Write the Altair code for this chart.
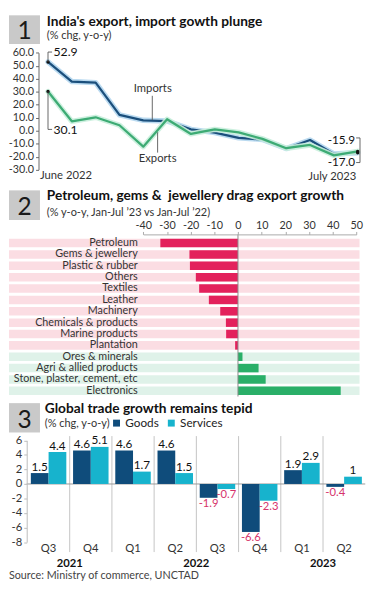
import altair as alt
import pandas as pd

FONT = "Lato"
W = 365
SX = 0.99
SY = 0.968
MINUS = "\u2212"
FIX_MINUS = f"replace(datum.label, '{MINUS}', '-')"


def X(x):
    return max(0.0, (x - 3) * SX)


def ly(y, top):
    return (y - top) * SY


P1, P2, P3, END = 3, 186, 405, 600
H1 = ly(P2, P1)
H2 = ly(P3, P2)
H3 = ly(END, P3)

# ---------------- data ----------------
months = ["Jun 2022", "Jul 2022", "Aug 2022", "Sep 2022", "Oct 2022", "Nov 2022", "Dec 2022",
          "Jan 2023", "Feb 2023", "Mar 2023", "Apr 2023", "May 2023", "Jun 2023", "Jul 2023"]
imports = [52.9, 37.8, 37.0, 12.2, 8.0, 7.4, 1.0, -1.5, -5.5, -6.8, -13.8, -7.2, -17.9, -17.0]
exports = [30.1, 7.2, 10.3, 4.2, -12.3, 8.8, -2.5, 1.0, -1.3, -6.3, -13.5, -11.0, -19.0, -15.9]
y1_ticks = [-30, -20, -10, 0, 10, 20, 30, 40, 50, 60]

sectors = ["Petroleum", "Gems & jewellery", "Plastic & rubber", "Others", "Textiles", "Leather",
           "Machinery", "Chemicals & products", "Marine products", "Plantation", "Ores & minerals",
           "Agri & allied products", "Stone, plaster, cement, etc", "Electronics"]
sector_growth = [-32.8, -20.5, -20.3, -17.8, -16.4, -12.3, -7.5, -5.1, -5.0, -1.2, 1.9, 8.7, 11.7, 43.4]
x2_ticks = [-40, -30, -20, -10, 0, 10, 20, 30, 40, 50]

quarters = ["Q3", "Q4", "Q1", "Q2", "Q3", "Q4", "Q1", "Q2"]
years = ["2021", "2021", "2022", "2022", "2022", "2022", "2023", "2023"]
goods = [1.5, 4.6, 4.6, 4.6, -1.9, -6.6, 1.9, -0.4]
services = [4.4, 5.1, 1.7, 1.5, -0.7, -2.3, 2.9, 1.0]
y3_ticks = [-8, -6, -4, -2, 0, 2, 4, 6]

NAVY = "#0f4c7b"
CYAN = "#17b3cd"
CRIMSON = "#e3215c"
GREEN = "#2aaf68"

ONE = pd.DataFrame({"k": [0]})
ZERO = pd.DataFrame({"z": [0]})


def text(t, x, y, size, weight="normal", align="left", baseline="alphabetic", color="#222"):
    return alt.Chart(ONE).mark_text(align=align, baseline=baseline, fontSize=size, fontWeight=weight,
                                    font=FONT, color=color).encode(
        x=alt.value(x), y=alt.value(y), text=alt.value(t))


def rect(x1, x2, y1, y2, color):
    return alt.Chart(ONE).mark_rect(color=color).encode(
        x=alt.value(x1), x2=alt.value(x2), y=alt.value(y1), y2=alt.value(y2))


def rule(x1, x2, y1, y2, color="#555", width=0.9):
    return alt.Chart(ONE).mark_rule(color=color, strokeWidth=width).encode(
        x=alt.value(x1), x2=alt.value(x2), y=alt.value(y1), y2=alt.value(y2))


def header(num, title, subtitle, top, box_top, box_bot, title_base, sub_base, title_x):
    return [
        rect(X(3), X(35), ly(box_top, top), ly(box_bot, top), "#c9c9c9"),
        text(num, X(19), ly(box_bot - 4.8, top), 25, align="center", color="#1a1a1a"),
        text(title, X(title_x), ly(title_base, top), 14, weight="bold", color="#111"),
        text(subtitle, X(title_x), ly(sub_base, top), 11.2, color="#333"),
    ]


# ---------------- panel 1 ----------------
df_imp = pd.DataFrame({"month": months, "value": imports})
df_exp = pd.DataFrame({"month": months, "value": exports})
df_ends = pd.DataFrame({"month": [months[0], months[0], months[-1], months[-1]],
                        "value": [imports[0], exports[0], imports[-1], exports[-1]]})

xs1 = alt.Scale(type="point", domain=months, range=[X(43.3), X(363.1)], padding=0)
ys1 = alt.Scale(domain=[-30, 60], range=[ly(166, P1), ly(42.5, P1)], nice=False, zero=False)
y1_axis = alt.Axis(values=y1_ticks, format=".1f", labelExpr=FIX_MINUS, offset=-X(33.5), tickSize=3,
                   tickColor="#666", domainColor="#666", labelColor="#333", labelFontSize=11,
                   labelFont=FONT, labelPadding=2, labelOverlap=False, grid=False, title=None, zindex=1)

X1 = alt.X("month:N", scale=xs1, axis=None)
Y1 = alt.Y("value:Q", scale=ys1, axis=y1_axis)


def line_layer(df, color, width, opacity=1.0):
    return alt.Chart(df).mark_line(color=color, strokeWidth=width, strokeJoin="round",
                                   strokeCap="round", opacity=opacity).encode(x=X1, y=Y1)


dots1 = alt.Chart(df_ends).mark_circle(size=12, color="#111", opacity=1).encode(x=X1, y=Y1)
br_imp = alt.Chart(df_ends.iloc[[0]]).mark_rule(color="#555", strokeWidth=0.9).encode(
    x=X1, y=Y1, y2=alt.value(ly(41.8, P1)))
br_exp = alt.Chart(df_ends.iloc[[1]]).mark_rule(color="#555", strokeWidth=0.9).encode(
    x=X1, y=Y1, y2=alt.value(ly(123.5, P1)))

panel1 = alt.layer(
    *header("1", "India's export, import gowth plunge", "(% chg, y-o-y)", P1, 3, 33.3, 14, 28.3, 42),
    line_layer(df_imp, "#b3d6ee", 5.5, opacity=0.9),
    line_layer(df_imp, "#1b4f7c", 2.3),
    line_layer(df_exp, "#c8eedb", 5.5, opacity=0.9),
    line_layer(df_exp, "#3dab74", 2.3),
    dots1,
    br_imp, rule(X(43.3), X(47.5), ly(41.8, P1), ly(41.8, P1)),
    br_exp, rule(X(43.3), X(47.5), ly(123.5, P1), ly(123.5, P1)),
    rule(X(365.5), X(365.5), ly(132.5, P1), ly(158.5, P1)),
    rule(X(361.5), X(365.5), ly(132.5, P1), ly(132.5, P1)),
    rule(X(361.5), X(365.5), ly(158.5, P1), ly(158.5, P1)),
    rule(X(151), X(151), ly(88, P1), ly(113.5, P1)),
    rule(X(156.5), X(156.5), ly(148, P1), ly(126.5, P1)),
    text(f"{imports[0]:.1f}", X(49), ly(42, P1), 12.5, baseline="middle", color="#111"),
    text(f"{exports[0]:.1f}", X(49), ly(123.8, P1), 12.5, baseline="middle", color="#111"),
    text(f"{exports[-1]:.1f}", X(360.5), ly(134.5, P1), 12, align="right", baseline="middle", color="#111"),
    text(f"{imports[-1]:.1f}", X(360.5), ly(158.3, P1), 12, align="right", baseline="middle", color="#111"),
    text("Imports", X(151.5), ly(81, P1), 11.5, align="center", baseline="middle", color="#333"),
    text("Exports", X(156.5), ly(154.5, P1), 11.5, align="center", baseline="middle", color="#333"),
    text("June 2022", X(35), ly(173, P1), 11.5, baseline="middle", color="#333"),
    text("July 2023", X(361.7), ly(173.5, P1), 11.5, align="right", baseline="middle", color="#333"),
).properties(width=W, height=H1)

# ---------------- panel 2 ----------------
df2 = pd.DataFrame({"sector": sectors, "growth": sector_growth})
ys2 = alt.Scale(type="band", domain=sectors, range=[ly(236.7, P2), ly(404.7, P2)],
                paddingInner=0.25, paddingOuter=0.125)
xs2 = alt.Scale(domain=[-40, 50], range=[X(141.7), X(361.7)], nice=False, zero=False)
x2_axis = alt.Axis(orient="top", values=x2_ticks, labelExpr=FIX_MINUS, offset=-ly(233.5, P2), tickSize=3,
                   tickColor="#aaa", domainColor="#aaa", labelFontSize=11, labelFont=FONT,
                   labelColor="#333", labelPadding=1, labelOverlap=False, labelFlush=False,
                   grid=False, title=None, zindex=1)
y2_axis = alt.Axis(orient="left", offset=-X(137.5), domain=False, ticks=False, tickSize=0, labelPadding=2,
                   labelFontSize=11, labelFont=FONT, labelColor="#333", labelLimit=300,
                   labelOverlap=False, title=None, zindex=1)
Y2 = alt.Y("sector:N", scale=ys2, axis=y2_axis)


def band_layer(cond, color):
    return alt.Chart(df2).transform_filter(cond).mark_bar(color=color).encode(
        y=Y2, x=alt.value(0), x2=alt.value(X(365)))


def bar_layer(cond, color):
    return alt.Chart(df2).transform_filter(cond).mark_bar(color=color).encode(
        y=Y2, x=alt.X("growth:Q", scale=xs2, axis=x2_axis))


zero2 = alt.Chart(ZERO).mark_rule(color="#8a8a8a", strokeWidth=1).encode(
    x=alt.X("z:Q", scale=xs2, axis=x2_axis), y=alt.value(ly(233.5, P2)), y2=alt.value(ly(404.7, P2)))

panel2 = alt.layer(
    *header("2", "Petroleum, gems &\u00a0 jewellery drag export growth",
            "(% y-o-y, Jan-Jul \u201923 vs Jan-Jul \u201922)", P2, 187, 218.3, 197.5, 213.8, 42),
    band_layer("datum.growth < 0", "#fbdde3"),
    band_layer("datum.growth >= 0", "#dff2e9"),
    bar_layer("datum.growth < 0", CRIMSON),
    bar_layer("datum.growth >= 0", GREEN),
    zero2,
).properties(width=W, height=H2)

# ---------------- panel 3 ----------------
periods = [f"{y} {q}" for y, q in zip(years, quarters)]


def fmt(v):
    s = f"{v:.1f}"
    return s[:-2] if s.endswith(".0") else s


df3 = pd.DataFrame({
    "period": periods * 2,
    "series": ["Goods"] * len(periods) + ["Services"] * len(periods),
    "value": goods + services,
})
df3["label"] = [fmt(v) for v in df3["value"]]

year_rows = []
for yr in dict.fromkeys(years):
    idx = [i for i, y in enumerate(years) if y == yr]
    year_rows.append({"period": periods[idx[0] + len(idx) // 2], "year": yr})
df_year = pd.DataFrame(year_rows)
df_sep = pd.DataFrame({"period": periods[1:]})

xs3 = alt.Scale(type="band", domain=periods, range=[X(22.1), X(370.9)], paddingInner=0, paddingOuter=0)
xo3 = alt.Scale(domain=["Goods", "Services"], paddingInner=0, paddingOuter=0.19)
ys3 = alt.Scale(domain=[-8, 6], range=[ly(558.5, P3), ly(451, P3)], nice=False, zero=False)
x3_axis = alt.Axis(orient="bottom", labelExpr="split(datum.label, ' ')[1]", offset=ly(559.5, P3) - H3,
                   domain=False, ticks=False, tickSize=0, labelPadding=0, labelFontSize=11.5, labelFont=FONT,
                   labelColor="#333", labelAngle=0, labelOverlap=False, title=None, zindex=1)
y3_axis = alt.Axis(values=y3_ticks, labelExpr=FIX_MINUS, offset=-X(21.3), tickSize=3, tickColor="#bbb",
                   domainColor="#bbb", labelFontSize=11.5, labelFont=FONT, labelColor="#333",
                   labelPadding=2, labelOverlap=False, grid=False, title=None, zindex=1)
legend3 = alt.Legend(orient="none", legendX=X(108), legendY=ly(427.5, P1), direction="horizontal",
                     title=None, symbolType="square", symbolSize=50, symbolStrokeWidth=0,
                     labelFontSize=12, labelFont=FONT, labelColor="#222", columnPadding=6,
                     labelOffset=3, padding=0)

X3 = alt.X("period:N", scale=xs3, axis=x3_axis)
X3b = alt.X("period:N", scale=xs3, axis=x3_axis, bandPosition=0)
XO3 = alt.XOffset("series:N", scale=xo3)
Y3 = alt.Y("value:Q", scale=ys3, axis=y3_axis)

seps = alt.Chart(df_sep).mark_rule(color="#c4c4c4", strokeWidth=1).encode(
    x=X3b, y=alt.value(ly(446.5, P3)), y2=alt.value(ly(569, P3)))
zero3 = alt.Chart(ZERO).mark_rule(color="#999", strokeWidth=1).encode(
    y=alt.Y("z:Q", scale=ys3, axis=y3_axis), x=alt.value(X(21.3)), x2=alt.value(X(370.9)))
bars3 = alt.Chart(df3).mark_bar().encode(
    x=X3, xOffset=XO3, y=Y3,
    color=alt.Color("series:N", scale=alt.Scale(domain=["Goods", "Services"], range=[NAVY, CYAN]),
                    legend=legend3))
lab_pos = alt.Chart(df3).transform_filter("datum.value >= 0").mark_text(
    baseline="alphabetic", dy=-2.5, fontSize=12, font=FONT, color="#111").encode(
    x=X3, xOffset=XO3, y=Y3, text="label:N")
lab_neg = alt.Chart(df3).transform_filter("datum.value < 0").mark_text(
    baseline="top", dy=0.5, fontSize=11.5, font=FONT, color="#d6336c").encode(
    x=X3, xOffset=XO3, y=Y3, text="label:N")
years3 = alt.Chart(df_year).mark_text(fontWeight="bold", fontSize=11.5, font=FONT, baseline="middle",
                                      color="#111").encode(
    x=X3b, y=alt.value(ly(582, P3)), text="year:N")

panel3 = alt.layer(
    *header("3", "Global trade growth remains tepid", "(% chg, y-o-y)", P3, 411.7, 442.7, 422.5, 436.5, 40),
    seps, zero3, bars3, lab_pos, lab_neg, years3,
    text("Source: Ministry of commerce, UNCTAD", X(3), ly(594.5, P3), 11, baseline="middle", color="#444"),
).properties(width=W, height=H3)

chart = alt.vconcat(panel1, panel2, panel3, spacing=0, bounds="flush").properties(
    padding=0, background="white"
).configure_view(stroke=None).configure_axis(minExtent=0)

chart.save("out.html", embed_options={"renderer": "svg", "actions": False})
